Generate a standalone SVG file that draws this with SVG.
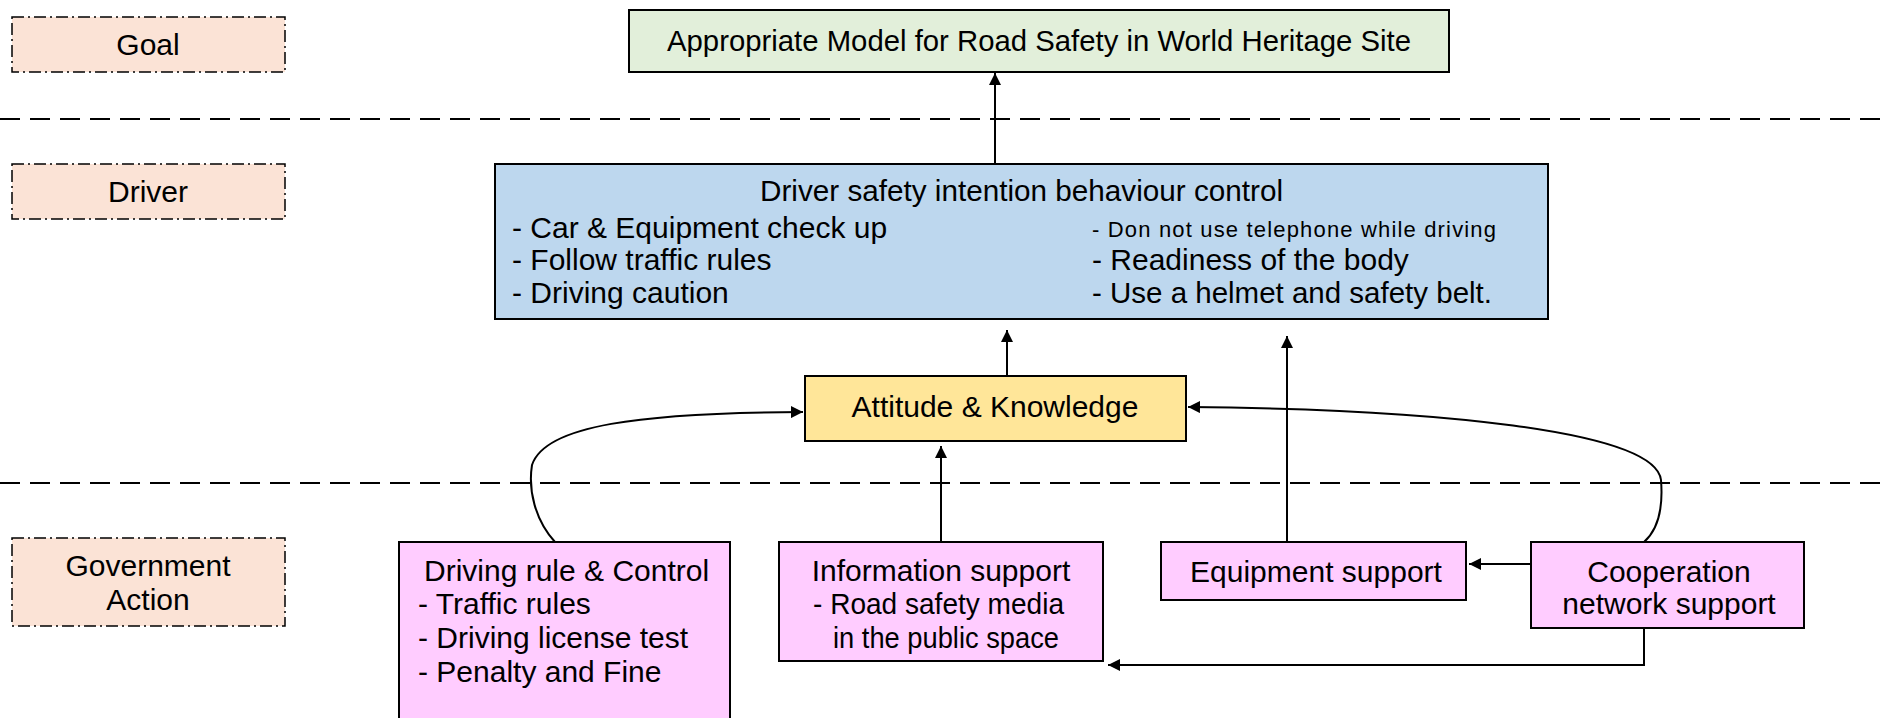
<svg xmlns="http://www.w3.org/2000/svg" width="1880" height="718" viewBox="0 0 1880 718">
  <style>
    text { font-family: "Liberation Sans", Arial, sans-serif; font-size: 30px; fill: #000; }
    .mid { text-anchor: middle; }
    .small { font-size: 22px; }
    .lane { fill: #FBE3D6; stroke: #000; stroke-width: 1.5; stroke-dasharray: 12 4 2 4; }
    .box { stroke: #000; stroke-width: 2; }
    .goal { fill: #E2EFDA; }
    .drv { fill: #BDD7EE; }
    .att { fill: #FFE699; }
    .gov { fill: #FFCCFF; }
    .sep { stroke: #000; stroke-width: 2; stroke-dasharray: 20 10; fill: none; }
    .conn { stroke: #000; stroke-width: 2; fill: none; marker-end: url(#arrow); }
  </style>
  <defs>
    <marker id="arrow" viewBox="0 0 10 10" refX="10" refY="5" markerWidth="6" markerHeight="6" markerUnits="strokeWidth" orient="auto">
      <path d="M0,0 L10,5 L0,10 Z" fill="#000"/>
    </marker>
  </defs>

  <!-- layer separators -->
  <g id="separators">
    <line class="sep" x1="0" y1="119" x2="1880" y2="119"/>
    <line class="sep" x1="0" y1="483" x2="1880" y2="483"/>
  </g>

  <!-- layer labels -->
  <g id="lane-goal">
    <rect class="lane" x="12" y="17" width="273" height="55"/>
    <text class="mid" x="148" y="55">Goal</text>
  </g>
  <g id="lane-driver">
    <rect class="lane" x="12" y="164" width="273" height="55"/>
    <text class="mid" x="148" y="202">Driver</text>
  </g>
  <g id="lane-government">
    <rect class="lane" x="12" y="538" width="273" height="88"/>
    <text class="mid" x="148" y="576">Government</text>
    <text class="mid" x="148" y="610">Action</text>
  </g>

  <!-- nodes -->
  <g id="node-goal">
    <rect class="box goal" x="629" y="10" width="820" height="62"/>
    <text x="667" y="51" textLength="744" lengthAdjust="spacingAndGlyphs">Appropriate Model for Road Safety in World Heritage Site</text>
  </g>
  <g id="node-driver-control">
    <rect class="box drv" x="495" y="164" width="1053" height="155"/>
    <text x="760" y="201" textLength="523" lengthAdjust="spacingAndGlyphs">Driver safety intention behaviour control</text>
    <text x="512" y="238">- Car &amp; Equipment check up</text>
    <text x="512" y="270">- Follow traffic rules</text>
    <text x="512" y="303">- Driving caution</text>
    <text class="small" x="1092" y="237" textLength="404" lengthAdjust="spacing">- Don not use telephone while driving</text>
    <text x="1092" y="270">- Readiness of the body</text>
    <text x="1092" y="303" textLength="400" lengthAdjust="spacingAndGlyphs">- Use a helmet and safety belt.</text>
  </g>
  <g id="node-attitude">
    <rect class="box att" x="805" y="376" width="381" height="65"/>
    <text class="mid" x="995" y="417">Attitude &amp; Knowledge</text>
  </g>
  <g id="node-driving-rule">
    <rect class="box gov" x="399" y="542" width="331" height="180"/>
    <text x="424" y="581">Driving rule &amp; Control</text>
    <text x="418" y="614">- Traffic rules</text>
    <text x="418" y="648">- Driving license test</text>
    <text x="418" y="682">- Penalty and Fine</text>
  </g>
  <g id="node-information">
    <rect class="box gov" x="779" y="542" width="324" height="119"/>
    <text class="mid" x="941" y="581">Information support</text>
    <text x="813" y="614" textLength="251" lengthAdjust="spacingAndGlyphs">- Road safety media</text>
    <text x="833" y="648" textLength="226" lengthAdjust="spacingAndGlyphs">in the public space</text>
  </g>
  <g id="node-equipment">
    <rect class="box gov" x="1161" y="542" width="305" height="58"/>
    <text class="mid" x="1316" y="582">Equipment support</text>
  </g>
  <g id="node-cooperation">
    <rect class="box gov" x="1531" y="542" width="273" height="86"/>
    <text class="mid" x="1669" y="582">Cooperation</text>
    <text class="mid" x="1669" y="614">network support</text>
  </g>

  <!-- connectors -->
  <g id="connectors">
    <line class="conn" x1="995" y1="164" x2="995" y2="73"/>
    <line class="conn" x1="1007" y1="376" x2="1007" y2="330"/>
    <line class="conn" x1="1287" y1="542" x2="1287" y2="336"/>
    <line class="conn" x1="941" y1="542" x2="941" y2="446"/>
    <line class="conn" x1="1531" y1="564" x2="1469" y2="564"/>
    <polyline class="conn" points="1644,628 1644,665 1108,665"/>
    <path class="conn" d="M555,542 C535,520 528,490 532,465 C545,425 640,413 803,412"/>
    <path class="conn" d="M1644,542 C1660,528 1663,505 1661,480 C1655,430 1430,409 1188,407"/>
  </g>
</svg>
